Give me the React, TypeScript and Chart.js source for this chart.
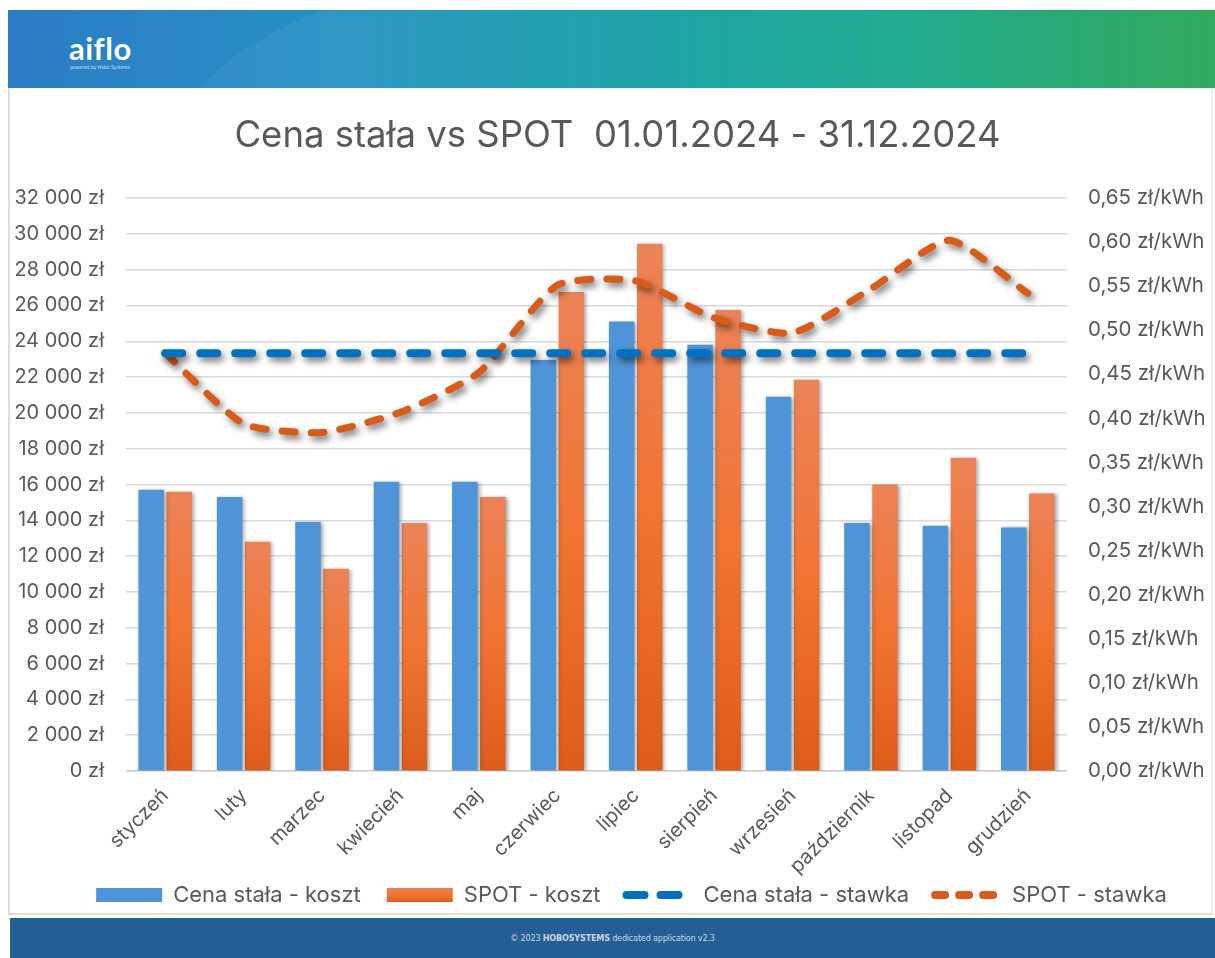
import React, { useEffect, useRef } from "react";
import { Chart, registerables } from "chart.js";

Chart.register(...registerables);

// ---------- data ----------
const months = [
  "styczeń", "luty", "marzec", "kwiecień", "maj", "czerwiec",
  "lipiec", "sierpień", "wrzesień", "październik", "listopad", "grudzień",
];
const fixedCost = [15700, 15300, 13900, 16150, 16150, 22950, 25100, 23800, 20900, 13850, 13700, 13600];
const spotCost = [15600, 12800, 11300, 13850, 15300, 26750, 29450, 25750, 21850, 16000, 17500, 15500];
const fixedRate = [0.474, 0.474, 0.474, 0.474, 0.474, 0.474, 0.474, 0.474, 0.474, 0.474, 0.474, 0.474];
const spotRate = [0.474, 0.394, 0.384, 0.407, 0.452, 0.551, 0.556, 0.514, 0.497, 0.547, 0.602, 0.542];
const seriesNames = ["Cena stała - koszt", "SPOT - koszt", "Cena stała - stawka", "SPOT - stawka"];
const leftTicks = [0, 2000, 4000, 6000, 8000, 10000, 12000, 14000, 16000, 18000, 20000, 22000, 24000, 26000, 28000, 30000, 32000];
const rightTicks = [0, 0.05, 0.1, 0.15, 0.2, 0.25, 0.3, 0.35, 0.4, 0.45, 0.5, 0.55, 0.6, 0.65];
const titleText = "Cena stała vs SPOT  01.01.2024 - 31.12.2024";

// ---------- styles ----------
const FONT = "Inter, 'Noto Sans', sans-serif";
const TEXT = "#595959";
const BLUE_BAR = "#4F94D8";
const BLUE_LINE = "#0070C0";
const ORANGE_LINE = "#DA5A18";

const fmtZl = (v: number) =>
  String(Math.round(v)).replace(/\B(?=(\d{3})+(?!\d))/g, " ") + " zł";
const fmtRate = (v: number) => v.toFixed(2).replace(".", ",") + " zł/kWh";

const orangeGradient = (ctx: CanvasRenderingContext2D, top: number, bottom: number) => {
  const g = ctx.createLinearGradient(0, top, 0, bottom);
  g.addColorStop(0, "#EC8358");
  g.addColorStop(0.5, "#F17432");
  g.addColorStop(1, "#DD5C1B");
  return g;
};

const shadowPlugin = {
  id: "shadows",
  beforeDatasetDraw(chart: any, args: any) {
    const ds = chart.data.datasets[args.index];
    const ctx = chart.ctx;
    ctx.save();
    if (ds.type === "line") {
      ctx.shadowColor = "rgba(0,0,0,0.55)";
      ctx.shadowBlur = 7;
      ctx.shadowOffsetX = 3;
      ctx.shadowOffsetY = 4;
    } else {
      ctx.shadowColor = "rgba(0,0,0,0.35)";
      ctx.shadowBlur = 4;
      ctx.shadowOffsetX = 2;
      ctx.shadowOffsetY = 1;
    }
  },
  afterDatasetDraw(chart: any) {
    chart.ctx.restore();
  },
};

// nudge title and legend horizontally to match the original placement
const nudgePlugin = {
  id: "nudge",
  afterLayout(chart: any) {
    if (chart.titleBlock) {
      chart.titleBlock.left += 6;
      chart.titleBlock.right += 6;
    }
    if (chart.legend) {
      chart.legend.left += 20;
      chart.legend.right += 20;
    }
  },
};

function ChartCanvas() {
  const ref = useRef<HTMLCanvasElement | null>(null);
  useEffect(() => {
    if (!ref.current) return;
    const chart = new Chart(ref.current, {
      type: "bar",
      data: {
        labels: months,
        datasets: [
          {
            type: "line",
            label: seriesNames[2],
            data: fixedRate,
            yAxisID: "y1",
            borderColor: BLUE_LINE,
            borderWidth: 8,
            borderDash: [17, 18],
            borderCapStyle: "round",
            pointRadius: 0,
            fill: false,
            order: 0,
          } as any,
          {
            type: "line",
            label: seriesNames[3],
            data: spotRate,
            yAxisID: "y1",
            borderColor: ORANGE_LINE,
            borderWidth: 7,
            borderDash: [13, 16],
            borderCapStyle: "round",
            borderJoinStyle: "round",
            tension: 0.2,
            pointRadius: 0,
            fill: false,
            order: 0,
          } as any,
          {
            type: "bar",
            label: seriesNames[0],
            data: fixedCost,
            yAxisID: "y",
            backgroundColor: BLUE_BAR,
            categoryPercentage: 0.715,
            barPercentage: 0.91,
            order: 1,
          },
          {
            type: "bar",
            label: seriesNames[1],
            data: spotCost,
            yAxisID: "y",
            backgroundColor: (c: any) => {
              const ch = c.chart;
              if (!ch.chartArea || c.type !== "data") return "#F07432";
              const ys = ch.scales.y;
              return orangeGradient(ch.ctx, ys.getPixelForValue(c.raw), ys.getPixelForValue(0));
            },
            categoryPercentage: 0.715,
            barPercentage: 0.91,
            order: 1,
          },
        ],
      },
      options: {
        responsive: false,
        animation: false,
        layout: { padding: 0 },
        plugins: {
          tooltip: { enabled: false },
          title: {
            display: true,
            text: titleText,
            color: TEXT,
            font: { family: FONT, size: 36.5, weight: "normal" },
            padding: { top: 24, bottom: 40.2 },
          },
          legend: {
            position: "bottom",
            labels: {
              usePointStyle: true,
              pointStyleWidth: 66,
              boxHeight: 14,
              padding: 26,
              color: TEXT,
              font: { family: FONT, size: 22 },
              generateLabels: (ch: any) => [
                { text: seriesNames[0], fillStyle: BLUE_BAR, strokeStyle: BLUE_BAR, lineWidth: 0, pointStyle: "rect", hidden: false, datasetIndex: 2, fontColor: TEXT },
                { text: seriesNames[1], fillStyle: orangeGradient(ch.ctx, 798, 812), strokeStyle: "#F07432", lineWidth: 0, pointStyle: "rect", hidden: false, datasetIndex: 3, fontColor: TEXT },
                { text: seriesNames[2], fillStyle: "rgba(0,0,0,0)", strokeStyle: BLUE_LINE, lineWidth: 8, lineDash: [18, 16], lineCap: "round", pointStyle: "line", hidden: false, datasetIndex: 0, fontColor: TEXT },
                { text: seriesNames[3], fillStyle: "rgba(0,0,0,0)", strokeStyle: ORANGE_LINE, lineWidth: 8, lineDash: [10, 14], lineCap: "round", pointStyle: "line", hidden: false, datasetIndex: 1, fontColor: TEXT },
              ],
            },
          },
        },
        scales: {
          x: {
            grid: { display: false, drawTicks: false },
            border: { display: false },
            ticks: {
              color: TEXT,
              font: { family: FONT, size: 20 },
              maxRotation: 45,
              minRotation: 45,
              padding: 13,
              autoSkip: false,
            },
            afterFit: (s: any) => {
              s.height = 87;
              // let rotated labels overflow below the axis box (no clipping)
              s._computeLabelArea = () => ({ top: s.top, left: 0, bottom: s.chart.height, right: s.chart.width });
            },
          },
          y: {
            position: "left",
            min: 0,
            max: 32000,
            afterBuildTicks: (s: any) => {
              s.ticks = leftTicks.map((v) => ({ value: v }));
            },
            ticks: {
              color: TEXT,
              font: { family: FONT, size: 20 },
              padding: 22,
              callback: (v: any) => fmtZl(Number(v)),
            },
            grid: {
              drawTicks: false,
              lineWidth: 1.5,
              color: (c: any) => (c.tick && c.tick.value === 0 ? "#C8C8C8" : "#D9D9D9"),
            },
            border: { display: false },
            afterFit: (s: any) => {
              s.width = 116;
            },
          },
          y1: {
            position: "right",
            min: 0,
            max: 0.65,
            afterBuildTicks: (s: any) => {
              s.ticks = rightTicks.map((v) => ({ value: v }));
            },
            ticks: {
              color: TEXT,
              font: { family: FONT, size: 20.5 },
              padding: 21,
              callback: (v: any) => fmtRate(Number(v)),
            },
            grid: { display: false, drawTicks: false },
            border: { display: false },
            afterFit: (s: any) => {
              s.width = 146;
            },
          },
        },
      } as any,
      plugins: [shadowPlugin, nudgePlugin],
    });
    return () => chart.destroy();
  }, []);
  return (
    <canvas
      ref={ref}
      width={1203}
      height={826}
      style={{ position: "absolute", left: 10, top: 90, width: 1203, height: 826 }}
    />
  );
}

export default function App() {
  return (
    <div>
      <div
        style={{
          position: "absolute",
          left: 8,
          top: 10,
          width: 1207,
          height: 78,
          overflow: "hidden",
          background:
            "linear-gradient(90deg, #2A7DC5 0%, #2A86C6 14%, #2591C3 26%, #1A98B2 40%, #11A29E 58%, #17A887 76%, #1EA56C 88%, #26A556 100%)",
        }}
      >
        <div
          style={{
            position: "absolute",
            left: 165,
            top: -80,
            width: 1300,
            height: 440,
            borderRadius: "50%",
            background: "rgba(255,255,255,0.05)",
          }}
        />
        <div
          style={{
            position: "absolute",
            left: 61,
            top: 19,
            color: "#fff",
            fontFamily: "Lato, 'Open Sans', sans-serif",
            fontWeight: 700,
            fontSize: 31,
            letterSpacing: 0.5,
          }}
        >
          aiflo
        </div>
        <div
          style={{
            position: "absolute",
            left: 62,
            top: 54,
            color: "rgba(255,255,255,0.85)",
            fontFamily: "'DejaVu Sans Condensed', 'Liberation Sans Narrow', sans-serif",
            fontSize: 5,
          }}
        >
          powered by Hobo Systems
        </div>
      </div>
      <div
        style={{
          position: "absolute",
          left: 8,
          top: 88,
          width: 1205,
          height: 827,
          boxSizing: "border-box",
          borderLeft: "2px solid #DDDDDD",
          borderBottom: "2px solid #DDDDDD",
          borderRight: "2px solid #EEEEEE",
          background: "#fff",
        }}
      />
      <ChartCanvas />
      <div
        style={{
          position: "absolute",
          left: 10,
          top: 918,
          width: 1205,
          height: 40,
          background: "#245E96",
          color: "#C9D6E4",
          fontFamily: "'Liberation Sans Narrow', 'DejaVu Sans Condensed', sans-serif",
          fontSize: 9,
          lineHeight: "40px",
          textAlign: "center",
          letterSpacing: -0.2,
        }}
      >
        © 2023 <b>HOBOSYSTEMS</b> dedicated application v2.3
      </div>
    </div>
  );
}
